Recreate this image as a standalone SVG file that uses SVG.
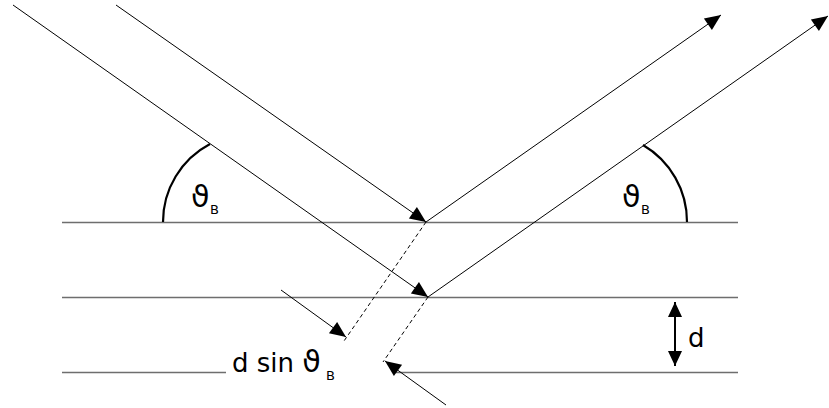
<svg xmlns="http://www.w3.org/2000/svg" width="829" height="408" viewBox="0 0 829 408">
<style>
.plane{stroke:#6e6e6e;stroke-width:1.6;fill:none}
.ray{stroke:#000;stroke-width:1;fill:none}
.dash{stroke:#000;stroke-width:1;fill:none;stroke-dasharray:4 3}
.arc{stroke:#000;stroke-width:2.2;fill:none}
.lbl{font-family:"DejaVu Sans",Verdana,sans-serif;font-size:26px;fill:#000}
.th{font-family:"DejaVu Sans",Verdana,sans-serif;font-size:30px;fill:#000}
.sub{font-family:"DejaVu Sans",Verdana,sans-serif;font-size:13px;fill:#000}
</style>
<defs>
<marker id="ah" markerUnits="userSpaceOnUse" markerWidth="17" markerHeight="14" refX="16" refY="7" orient="auto" overflow="visible">
<path d="M0,0 L16,7 L0,14 z" fill="#000"/>
</marker>
<marker id="ahd" markerUnits="userSpaceOnUse" markerWidth="15" markerHeight="14" refX="15" refY="7" orient="auto" overflow="visible">
<path d="M0,0 L15,7 L0,14 z" fill="#000"/>
</marker>
</defs>
<g id="planes">
<line class="plane" x1="62" y1="222.5" x2="738" y2="222.5"/>
<line class="plane" x1="62" y1="297.5" x2="738" y2="297.5"/>
<line class="plane" x1="62" y1="372.5" x2="226" y2="372.5"/>
<line class="plane" x1="393" y1="372.5" x2="738" y2="372.5"/>
</g>
<g id="connectors">
<line class="ray" x1="13" y1="5" x2="428" y2="297" marker-end="url(#ah)"/>
<line class="ray" x1="116" y1="5" x2="426" y2="222" marker-end="url(#ah)"/>
<line class="ray" x1="426" y1="222" x2="721" y2="15" marker-end="url(#ah)"/>
<line class="ray" x1="428" y1="297" x2="828" y2="16" marker-end="url(#ah)"/>
<line class="dash" x1="426" y1="222" x2="344" y2="341"/>
<line class="dash" x1="428" y1="297" x2="383" y2="362"/>
<line class="ray" x1="281" y1="290" x2="346" y2="337" marker-end="url(#ah)"/>
<line class="ray" x1="446" y1="405" x2="385" y2="361" marker-end="url(#ah)"/>
<line x1="675" y1="315" x2="675" y2="302" stroke="#000" stroke-width="2" marker-end="url(#ahd)"/>
<line x1="675" y1="350" x2="675" y2="366" stroke="#000" stroke-width="2" marker-end="url(#ahd)"/>
<line x1="675" y1="312" x2="675" y2="353" stroke="#000" stroke-width="2"/>
</g>
<g id="angle-left">
<path class="arc" d="M210,144 A88,88 0 0 0 163,222"/>
<text class="th" x="191" y="207">ϑ</text><text class="sub" x="210" y="214">B</text>
</g>
<g id="angle-right">
<path class="arc" d="M643,145 A89,89 0 0 1 687,222"/>
<text class="th" x="622" y="207">ϑ</text><text class="sub" x="641" y="214">B</text>
</g>
<g id="label-d">
<text class="lbl" x="688" y="347">d</text>
</g>
<g id="label-dsin">
<text class="lbl" x="232" y="372">d sin <tspan class="th">ϑ</tspan></text><text class="sub" x="326" y="380">B</text>
</g>
</svg>
